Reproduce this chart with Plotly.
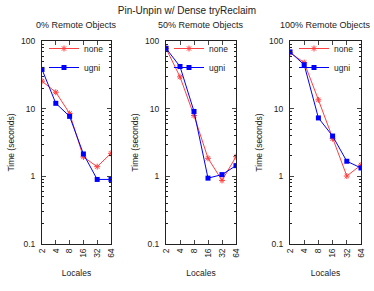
import plotly.graph_objects as go

locales = [2, 4, 8, 16, 32, 64]
tick_text = ["2", "4", "8", "16", "32", "64"]
panel_titles = ["0% Remote Objects", "50% Remote Objects", "100% Remote Objects"]

none_0 = [25.5, 17.5, 8.5, 1.93, 1.39, 2.19]
ugni_0 = [38, 12.0, 7.7, 2.14, 0.90, 0.90]
none_50 = [78, 29.5, 7.9, 1.85, 0.87, 1.95]
ugni_50 = [78, 42, 9.1, 0.94, 1.06, 1.44]
none_100 = [67, 48, 13.5, 3.6, 1.01, 1.47]
ugni_100 = [69, 44.5, 7.3, 3.94, 1.67, 1.33]

none_series = [none_0, none_50, none_100]
ugni_series = [ugni_0, ugni_50, ugni_100]

W, H = 374, 291
x_dom = [(42, 111), (166, 236), (290, 361)]
y_top, y_bot = 41, 244
FONT = "Liberation Sans, Arial, sans-serif"
TXT = "#222"
minor_vals = [m * 10 ** e for e in (-1, 0, 1) for m in range(2, 10)]

fig = go.Figure()
layout = dict(
    width=W, height=H,
    margin=dict(l=0, r=0, t=0, b=0, autoexpand=False),
    paper_bgcolor="white", plot_bgcolor="white",
    showlegend=True,
    font=dict(family=FONT, size=8.5, color=TXT),
    title=dict(text="Pin-Unpin w/ Dense tryReclaim", x=0.5, xanchor="center",
               y=1 - 10 / H, yanchor="middle", font=dict(size=10, family=FONT, color=TXT)),
)
annotations = []
for i in range(3):
    xs = "" if i == 0 else str(i + 1)
    lg = "legend" if i == 0 else f"legend{i + 1}"
    fig.add_trace(go.Scatter(
        x=locales, y=none_series[i], name="none", mode="lines+markers",
        line=dict(color="#ff4040", width=1),
        marker=dict(symbol="asterisk-open", size=5, color="#ff4040", line=dict(color="#ff4040", width=1)),
        xaxis="x" + xs, yaxis="y" + xs, legend=lg))
    fig.add_trace(go.Scatter(
        x=locales, y=ugni_series[i], name="ugni", mode="lines+markers",
        line=dict(color="#0000ff", width=1),
        marker=dict(symbol="square", size=5, color="#0000ff"),
        xaxis="x" + xs, yaxis="y" + xs, legend=lg))
    x0, x1 = x_dom[i]
    layout["xaxis" + xs] = dict(
        domain=[x0 / W, x1 / W], type="log", anchor="y" + xs, automargin=False,
        range=[0.30103, 1.80618], tickvals=locales, ticktext=tick_text,
        tickangle=-90, ticks="inside", ticklen=4, mirror="ticks", showline=True,
        linecolor=TXT, linewidth=1, showgrid=False, zeroline=False,
        tickfont=dict(size=8.5, family=FONT, color=TXT),
        title=dict(text="Locales", font=dict(size=8.5, family=FONT, color=TXT), standoff=13),
    )
    layout["yaxis" + xs] = dict(
        domain=[1 - y_bot / H, 1 - y_top / H], type="log", anchor="x" + xs, automargin=False,
        range=[-1, 2], tickvals=[0.1, 1, 10, 100], ticktext=["0.1", "1", "10", "100"],
        ticks="inside", ticklen=4, mirror="ticks", showline=True, ticklabelstandoff=4,
        linecolor=TXT, linewidth=1, showgrid=False, zeroline=False,
        minor=dict(ticks="inside", ticklen=2, tickcolor=TXT, showgrid=False, tickvals=minor_vals),
        tickfont=dict(size=8.5, family=FONT, color=TXT),
        title=dict(text="Time (seconds)", font=dict(size=8.5, family=FONT, color=TXT), standoff=5),
    )
    layout[lg] = dict(
        x=(x1 - 2) / W, xanchor="right", y=1 - (y_top - 7) / H, yanchor="top",
        bgcolor="rgba(0,0,0,0)", font=dict(size=8.5, family=FONT, color=TXT),
        itemwidth=30, tracegroupgap=0,
    )
    annotations.append(dict(
        text=panel_titles[i], x=(x0 + x1) / 2 / W, y=1 - 25 / H, xref="paper", yref="paper",
        xanchor="center", yanchor="middle", showarrow=False,
        font=dict(size=9, family=FONT, color=TXT)))
layout["annotations"] = annotations
fig.update_layout(**layout)
fig.write_html("out.html", config={"displayModeBar": False},
               post_script="document.body.style.margin='0px';")
